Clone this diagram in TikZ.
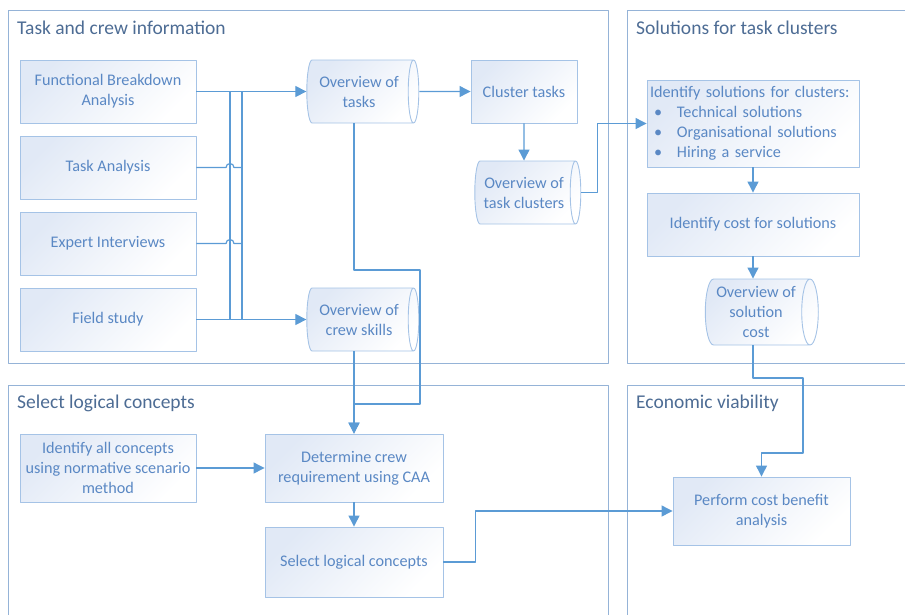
\documentclass[tikz,border=0pt]{standalone}
\usepackage{fontspec}
\setmainfont{Carlito}
\usetikzlibrary{shapes.geometric,arrows.meta}
\definecolor{linkc}{HTML}{5B9BD5}
\definecolor{panelc}{HTML}{95B3D7}
\definecolor{boxc}{HTML}{A5C3E6}
\definecolor{fillc}{HTML}{E1E9F6}
\definecolor{textc}{HTML}{5A88C4}
\definecolor{titlec}{HTML}{4D6C94}
\begin{document}
\begin{tikzpicture}[x=1pt, y=-1pt, font=\fontsize{16.2}{20}\selectfont, line join=round, >={Triangle[length=11pt,width=11pt]},
	panel/.style={draw=panelc, line width=0.9pt},
	ptitle/.style={anchor=west, inner sep=0pt, text=titlec, font=\fontsize{19.5}{22}\selectfont},
	box/.style={draw=boxc, line width=0.9pt, top color=fillc, bottom color=white, shading angle=45, text=textc, align=center, minimum width=176pt, minimum height=63pt, inner sep=2pt},
	store/.style={box, cylinder, aspect=0.3, minimum height=112pt, minimum width=63pt},
	link/.style={draw=linkc, line width=1.2pt}]
	\def\busA{230} \def\busB{242} % Bus lines
	\useasboundingbox (0,0) rectangle (905,614);
	% panels
	\draw[panel] (8,10) rectangle (608,363);
	\draw[panel] (627,10) rectangle (915,363);
	\draw[panel] (8,385) rectangle (608,625);
	\draw[panel] (627,385) rectangle (915,625);
	\node[ptitle] (t1) at (17,28) {Task and crew information};
	\node[ptitle] (t2) at (636,28) {Solutions for task clusters};
	\node[ptitle] (t3) at (17,403) {Select logical concepts};
	\node[ptitle] (t4) at (636,403) {Economic viability};
	% boxes
	\node[box] (fba) at (108,91.5) {Functional Breakdown\\Analysis};
	\node[box] (ta) at (108,167.5) {Task Analysis};
	\node[box] (ei) at (108,243.5) {Expert Interviews};
	\node[box] (fs) at (108,319.5) {Field study};
	\node[store] (tasks) at (359,91.5) {Overview of\\tasks};
	\node[store] (skills) at (359,319.5) {Overview of\\crew skills};
	\node[box, minimum width=106pt] (clus) at (524,91.5) {Cluster tasks};
	\node[store, minimum height=106pt] (clusov) at (524,192.5) {Overview of\\task clusters};
	\node[box, minimum width=212pt, minimum height=87pt, text width=206pt, align=left] (sol) at (753,123.5) {Identify solutions for clusters:\\
		\hspace*{4pt}\makebox[23pt][l]{•}Technical solutions\\
		\hspace*{4pt}\makebox[23pt][l]{•}Organisational solutions\\
		\hspace*{4pt}\makebox[23pt][l]{•}Hiring a service};
	\node[box, minimum width=212pt] (cost) at (753,224.5) {Identify cost for solutions};
	\node[store, minimum height=113pt, minimum width=66pt] (solcost) at (756,312) {Overview of\\solution\\cost};
	\node[box, minimum height=68pt] (ident) at (108,468) {Identify all concepts\\using normative scenario\\method};
	\node[box, minimum width=178pt, minimum height=68pt] (det) at (354,468) {Determine crew\\requirement using CAA};
	\node[box, minimum width=178pt, minimum height=70pt] (sel) at (354,562) {Select logical concepts};
	\node[box, minimum width=177pt, minimum height=68pt] (perf) at (761.5,511) {Perform cost benefit\\analysis};
	\coordinate (busA) at (\busA,0);
	\coordinate (busB) at (\busB,0);
	\coordinate (bendA) at (420,270);
	\coordinate (bendB) at (420,404);
	\coordinate (bendC) at (803,378);
	\coordinate (bendD) at (803,453);
	% connectors
	\draw[link,->] (fba.east) -- (tasks.west);
	\draw[link,->] (fs.east) -- (skills.west);
	\draw[link] (fba.east -| busA) -- (fs.east -| busA);
	\draw[link] (fba.east -| busB) -- (fs.east -| busB);
	\draw[link] (ta.east) -- ([xshift=-4pt]ta.east -| busA) arc[start angle=180, end angle=0, radius=4pt] -- (ta.east -| busB);
	\draw[link] (ei.east) -- ([xshift=-4pt]ei.east -| busA) arc[start angle=180, end angle=0, radius=4pt] -- (ei.east -| busB);
	\draw[link,->] (tasks.east) -- (clus.west);
	\draw[link,->] (clus.south) -- (clusov.north);
	\draw[link,->] (clusov.east) -- ++(16,0) |- (sol.west);
	\draw[link,->] (sol.south) -- (cost.north);
	\draw[link,->] (cost.south) -- (cost.south |- solcost.north);
	\draw[link,->] (solcost.south -| cost.south) |- (bendC) -- (bendD) -| (perf.north);
	\draw[link,->] (tasks.south -| det.north) |- (bendA) -- (bendB) -| (det.north);
	\draw[link,->] (skills.south -| det.north) -- (det.north);
	\draw[link,->] (ident.east) -- (det.west);
	\draw[link,->] (det.south) -- (sel.north);
	\draw[link,->] (sel.east) -- ++(32,0) |- (perf.west);
\end{tikzpicture}
\end{document}
